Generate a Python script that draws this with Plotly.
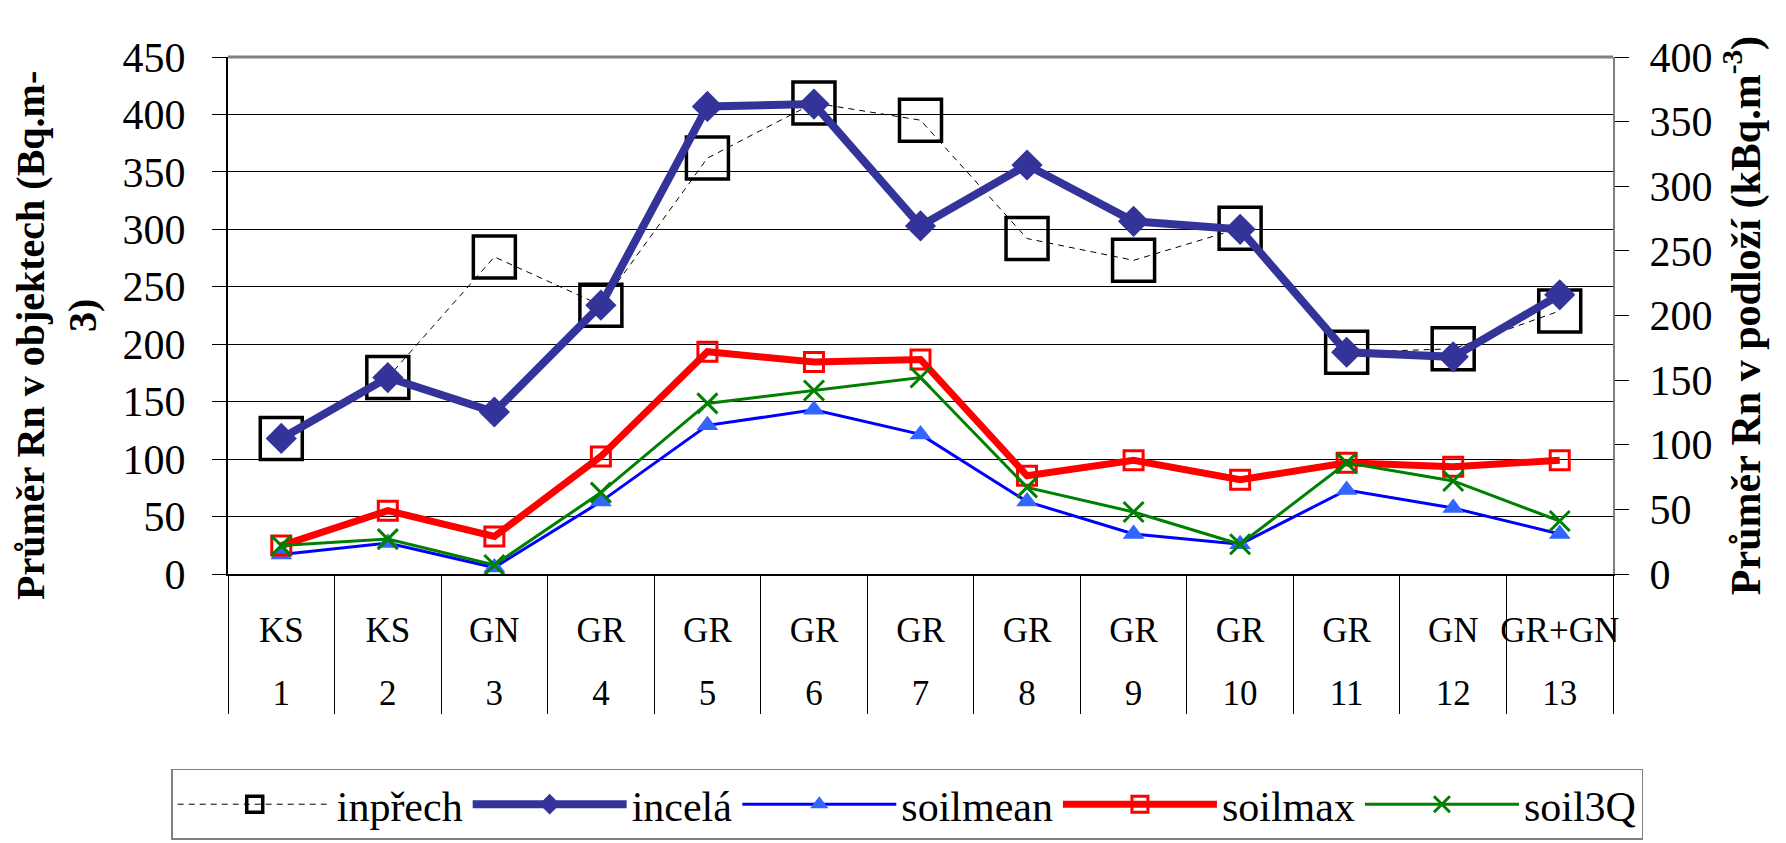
import plotly.graph_objects as go

# ---- data ----
site_numbers = ["1", "2", "3", "4", "5", "6", "7", "8", "9", "10", "11", "12", "13"]
rock_types = ["KS", "KS", "GN", "GR", "GR", "GR", "GR", "GR", "GR", "GR", "GR", "GN", "GR+GN"]

inprech = [118, 171, 276, 234, 362, 410, 395, 292, 273, 301, 193, 196, 229]
incela = [118, 171, 141, 234, 407, 409, 303, 356, 307, 300, 193, 189, 243]
soilmean = [15, 24, 5, 56, 115, 127, 108, 56, 31, 23, 65, 51, 31]
soilmax = [22, 49, 29, 91, 172, 164, 166, 76, 88, 73, 86, 83, 88]
soil3q = [22, 27, 7, 63, 132, 142, 152, 67, 48, 23, 86, 72, 41]

left_title = "Průměr Rn v objektech (Bq.m-&nbsp;&nbsp;&nbsp;&nbsp;<br>3)"
right_title = "Průměr Rn v podloží (kBq.m<sup>-3</sup>)"

FONT = "Liberation Serif, Times New Roman, serif"
# inner level gets an extra (empty) line so the outer level sits lower, as in the reference table
x = [site_numbers, [r + "<br>&nbsp;" for r in rock_types]]

fig = go.Figure()
fig.add_trace(go.Scatter(
    x=x, y=inprech, name="inpřech", mode="lines+markers",
    line=dict(color="#000000", width=1, dash="6px,5px"),
    marker=dict(symbol="square-open", size=42, color="#000000", line=dict(width=3.5)),
    yaxis="y"))
fig.add_trace(go.Scatter(
    x=x, y=incela, name="incelá", mode="lines+markers",
    line=dict(color="#333399", width=8),
    marker=dict(symbol="diamond", size=24, color="#333399"),
    yaxis="y"))
fig.add_trace(go.Scatter(
    x=x, y=soilmean, name="soilmean", mode="lines+markers",
    line=dict(color="#0000FF", width=3),
    marker=dict(symbol="triangle-up", size=19, color="#3366FF"),
    yaxis="y2"))
fig.add_trace(go.Scatter(
    x=x, y=soilmax, name="soilmax", mode="lines+markers",
    line=dict(color="#FF0000", width=7),
    marker=dict(symbol="square-open", size=19, color="#FF0000", line=dict(width=3)),
    yaxis="y2"))
fig.add_trace(go.Scatter(
    x=x, y=soil3q, name="soil3Q", mode="lines+markers",
    line=dict(color="#008000", width=3),
    marker=dict(symbol="x-thin-open", size=20, color="#008000", line=dict(width=3, color="#008000")),
    yaxis="y2"))

# page body has an 8px margin, so the figure is 8px smaller than the window
fig.update_layout(
    width=1778, height=835,
    margin=dict(l=220, r=173, t=49, b=269, autoexpand=False),
    paper_bgcolor="white", plot_bgcolor="white",
    font=dict(family=FONT, color="black", size=40),
    showlegend=True,
    legend=dict(
        orientation="h", x=-0.041, xanchor="left", y=-0.377, yanchor="top",
        bordercolor="#808080", borderwidth=1.5, bgcolor="white",
        font=dict(family=FONT, size=42), itemwidth=154,
        tracegroupgap=0,
    ),
    xaxis=dict(
        type="multicategory", range=[-0.5, 12.5], automargin=False,
        showgrid=False, showline=True, linecolor="black", linewidth=2,
        showdividers=True, dividercolor="black", dividerwidth=1,
        tickfont=dict(family=FONT, size=35), tickangle=0, ticks="",
        ticklabelstandoff=24,
    ),
    yaxis=dict(
        range=[0, 450], dtick=50, automargin=False,
        showgrid=True, gridcolor="black", gridwidth=1,
        showline=True, linecolor="black", linewidth=2, ticks="outside", ticklen=14,
        tickcolor="black", tickfont=dict(family=FONT, size=42), zeroline=False,
        ticklabelstandoff=18,
    ),
    yaxis2=dict(
        range=[0, 400], dtick=50, overlaying="y", side="right", automargin=False,
        showgrid=False,
        showline=True, linecolor="#808080", linewidth=2, ticks="outside", ticklen=14,
        tickcolor="black", tickfont=dict(family=FONT, size=42), zeroline=False,
        ticklabelstandoff=12,
        title=dict(text=right_title, font=dict(family=FONT, size=42, weight="bold"), standoff=19),
    ),
    annotations=[dict(
        text=left_title, textangle=-90, xref="paper", yref="paper",
        x=(48.5 - 220) / 1385, y=0.5, xanchor="center", yanchor="middle",
        showarrow=False, align="center",
        font=dict(family=FONT, size=40, weight="bold", color="black"),
    )],
    shapes=[dict(type="line", xref="paper", yref="paper", x0=0, x1=1, y0=1, y1=1,
                 line=dict(color="#808080", width=3))],
)

fig.write_html("out.html")
